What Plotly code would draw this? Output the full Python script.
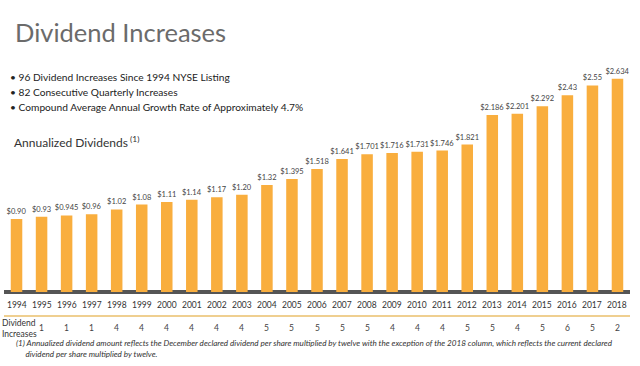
import plotly.graph_objects as go

years = [str(y) for y in range(1994, 2019)]
dividends = [0.90, 0.93, 0.945, 0.96, 1.02, 1.08, 1.11, 1.14, 1.17, 1.20, 1.32, 1.395,
             1.518, 1.641, 1.701, 1.716, 1.731, 1.746, 1.821, 2.186, 2.201, 2.292,
             2.43, 2.55, 2.634]
labels = ["$0.90", "$0.93", "$0.945", "$0.96", "$1.02", "$1.08", "$1.11", "$1.14",
          "$1.17", "$1.20", "$1.32", "$1.395", "$1.518", "$1.641", "$1.701", "$1.716",
          "$1.731", "$1.746", "$1.821", "$2.186", "$2.201", "$2.292", "$2.43", "$2.55",
          "$2.634"]
inc_years = [str(y) for y in range(1995, 2019)]
increases = [1, 1, 1, 4, 4, 4, 4, 4, 4, 5, 5, 5, 5, 5, 4, 4, 4, 5, 5, 4, 5, 6, 5, 2]
bullets = ["96 Dividend Increases Since 1994 NYSE Listing",
           "82 Consecutive Quarterly Increases",
           "Compound Average Annual Growth Rate of Approximately 4.7%"]

FONT = "Lato"
BAR = "#F9AE3E"

W, H = 640, 366
L, R, T, B = 4, 10, 57, 51
PW, PH = W - L - R, H - T - B
BASE_PX = 292           # pixel row of the dark baseline (y = 0)
PX_PER_UNIT = 81.0      # vertical pixels per dollar
Y_LO = -(H - B - BASE_PX) / PX_PER_UNIT
Y_HI = (BASE_PX - T) / PX_PER_UNIT


def px(x):
    return (x - L) / PW


def py(y):
    return (H - B - y) / PH


fig = go.Figure()
fig.add_trace(go.Bar(
    x=years, y=dividends, text=labels, textposition="outside", constraintext="none",
    textfont=dict(size=7.5, color="#444444", family=FONT),
    marker=dict(color=BAR, line=dict(width=0)), width=0.46,
    cliponaxis=False, hoverinfo="skip"))

fig.update_layout(
    width=W, height=H, autosize=False,
    margin=dict(l=L, r=R, t=T, b=B, autoexpand=False),
    paper_bgcolor="white", plot_bgcolor="white",
    showlegend=False,
    font=dict(family=FONT, color="#333333"),
    xaxis=dict(type="category", range=[-0.5, 24.5], showgrid=False, zeroline=False,
               showline=True, linecolor="#EFCF90", linewidth=1.5, mirror=False,
               ticks="", showticklabels=False, fixedrange=True),
    yaxis=dict(range=[Y_LO, Y_HI], showgrid=False, zeroline=True,
               zerolinecolor="#555555", zerolinewidth=4, layer="above traces",
               showline=False, showticklabels=False, ticks="", fixedrange=True),
)

ann = []
ann.append(dict(text="Dividend Increases", xref="paper", yref="paper", x=px(13), y=py(32),
                xanchor="left", yanchor="middle", showarrow=False,
                font=dict(size=25.5, color="#6b6b6b", family=FONT)))
for i, b in enumerate(bullets):
    ann.append(dict(text="\u2022 " + b, xref="paper", yref="paper", x=px(8),
                    y=py(77 + 15 * i), xanchor="left", yanchor="middle",
                    showarrow=False, font=dict(size=10.2, color="#222222", family=FONT)))
ann.append(dict(text="Annualized Dividends<sup> (1)</sup>", xref="paper", yref="paper",
                x=px(12), y=py(142), xanchor="left", yanchor="middle", showarrow=False,
                font=dict(size=12, color="#333333", family=FONT)))
for i, yr in enumerate(years):
    ann.append(dict(text=yr, x=i, xref="x", yref="paper", y=py(305),
                    xanchor="center", yanchor="middle", showarrow=False,
                    font=dict(size=8.5, color="#333333", family=FONT)))
ann.append(dict(text="Dividend<br>Increases", xref="paper", yref="paper", x=px(0), y=py(328),
                xanchor="left", yanchor="middle", showarrow=False, align="left",
                font=dict(size=8.5, color="#333333", family=FONT)))
for yv, n in zip(inc_years, increases):
    ann.append(dict(text=str(n), x=years.index(yv), xref="x", yref="paper", y=py(328),
                    xanchor="center", yanchor="middle", showarrow=False,
                    font=dict(size=8.5, color="#444444", family=FONT)))
ann.append(dict(text="<i>(1) Annualized dividend amount reflects the December declared dividend per share multiplied by twelve with the exception of the 2018 column, which reflects the current declared<br>     dividend per share multiplied by twelve.</i>",
                xref="paper", yref="paper", x=px(14), y=py(348), xanchor="left",
                yanchor="middle", showarrow=False, align="left",
                font=dict(size=8.1, color="#333333", family=FONT)))
fig.update_layout(annotations=ann)

fig.write_html("out.html", config={"displayModeBar": False},
               post_script="document.body.style.margin='0';document.body.style.overflow='hidden';")
